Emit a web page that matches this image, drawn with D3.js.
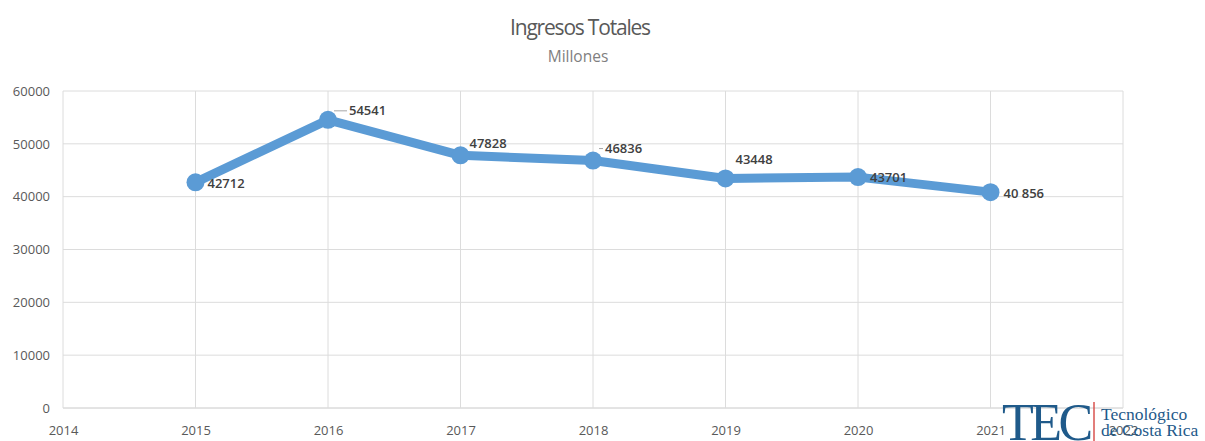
<!DOCTYPE html>
<html><head><meta charset="utf-8">
<script src="https://cdn.jsdelivr.net/npm/d3@7"></script>
<style>body{margin:0;background:#fff}svg{display:block}</style>
</head><body>
<svg id="c" width="1205" height="441"></svg>
<script>
const years = [2015, 2016, 2017, 2018, 2019, 2020, 2021];
const ingresos = [42712, 54541, 47828, 46836, 43448, 43701, 40856];
const labelText = ["42712", "54541", "47828", "46836", "43448", "43701", "40 856"];
const xTicks = [2014, 2015, 2016, 2017, 2018, 2019, 2020, 2021, 2022];
const yTicks = [0, 10000, 20000, 30000, 40000, 50000, 60000];

const svg = d3.select("#c");
const m = {l: 63, r: 1123, t: 91, b: 408};
const x = d3.scaleLinear().domain([2014, 2022]).range([m.l, m.r]);
const y = d3.scaleLinear().domain([0, 60000]).range([m.b, m.t]);
const font = "'Open Sans', sans-serif";

// title
svg.append("text").attr("x", 580).attr("y", 35).attr("text-anchor", "middle")
  .attr("font-family", font).attr("font-size", 21).attr("letter-spacing", -1.2)
  .attr("fill", "#595959").text("Ingresos Totales");
svg.append("text").attr("x", 578).attr("y", 62).attr("text-anchor", "middle")
  .attr("font-family", font).attr("font-size", 15.5)
  .attr("fill", "#7f7f7f").text("Millones");

// gridlines
svg.append("g").selectAll("line").data(yTicks).join("line")
  .attr("x1", m.l).attr("x2", m.r).attr("y1", d => y(d)).attr("y2", d => y(d))
  .attr("stroke", d => d === 0 ? "#c8c8c8" : "#dcdcdc").attr("stroke-width", 1);
svg.append("g").selectAll("line").data(xTicks).join("line")
  .attr("x1", d => x(d)).attr("x2", d => x(d)).attr("y1", m.t).attr("y2", m.b)
  .attr("stroke", "#dcdcdc").attr("stroke-width", 1);

// axes
const yAxis = d3.axisLeft(y).tickValues(yTicks).tickSize(0).tickPadding(13).tickFormat(d3.format("d"));
const gy = svg.append("g").attr("transform", `translate(${m.l},0)`).call(yAxis);
gy.select(".domain").remove();
gy.selectAll("text").attr("font-family", font).attr("font-size", 13).attr("fill", "#595959");

const xAxis = d3.axisBottom(x).tickValues(xTicks).tickSize(0).tickPadding(18).tickFormat(d3.format("d"));
const gx = svg.append("g").attr("transform", `translate(0,${m.b})`).call(xAxis);
gx.select(".domain").remove();
gx.selectAll("text").attr("font-family", font).attr("font-size", 13).attr("fill", "#595959");

// line
const data = years.map((d, i) => ({year: d, v: ingresos[i], lab: labelText[i]}));
const line = d3.line().x(d => x(d.year)).y(d => y(d.v));
svg.append("path").datum(data).attr("d", line).attr("fill", "none")
  .attr("stroke", "#5b9bd5").attr("stroke-width", 9).attr("stroke-linejoin", "round");
svg.append("g").selectAll("circle").data(data).join("circle")
  .attr("cx", d => x(d.year)).attr("cy", d => y(d.v)).attr("r", 9).attr("fill", "#5b9bd5");

// labels (offsets of label start / vertical centre relative to point)
const off = [[12, 1], [21, -9], [9, -12], [12, -12], [10, -19], [12, 0], [13, 1]];
const leader = [false, true, false, true, false, false, false];
const lg = svg.append("g");
data.forEach((d, i) => {
  const px = x(d.year), py = y(d.v);
  lg.append("text").attr("x", px + off[i][0]).attr("y", py + off[i][1] + 4.5)
    .attr("font-family", font).attr("font-size", 13).attr("font-weight", 600)
    .attr("fill", "#404040").text(d.lab);
  if (leader[i]) {
    lg.append("line").attr("x1", px + 6).attr("x2", px + off[i][0] - 2)
      .attr("y1", py + off[i][1]).attr("y2", py + off[i][1]).attr("stroke", "#a6a6a6");
  }
});

// logo
const logo = svg.append("g");
logo.append("text").attr("x", 1002).attr("y", 440).attr("font-family", "'Liberation Serif', 'Times New Roman', serif")
  .attr("font-size", 52).attr("fill", "#1f5a8a").attr("letter-spacing", -3.5).text("TEC");
logo.append("line").attr("x1", 1094).attr("x2", 1094).attr("y1", 402).attr("y2", 441)
  .attr("stroke", "#d9534f").attr("stroke-width", 1.5);
logo.append("text").attr("x", 1101).attr("y", 420).attr("font-family", "'Liberation Serif', serif")
  .attr("font-size", 17.5).attr("fill", "#1f5a8a").text("Tecnológico");
logo.append("text").attr("x", 1101).attr("y", 436).attr("font-family", "'Liberation Serif', serif")
  .attr("font-size", 17.5).attr("fill", "#1f5a8a").text("de Costa Rica");
</script>
</body></html>
